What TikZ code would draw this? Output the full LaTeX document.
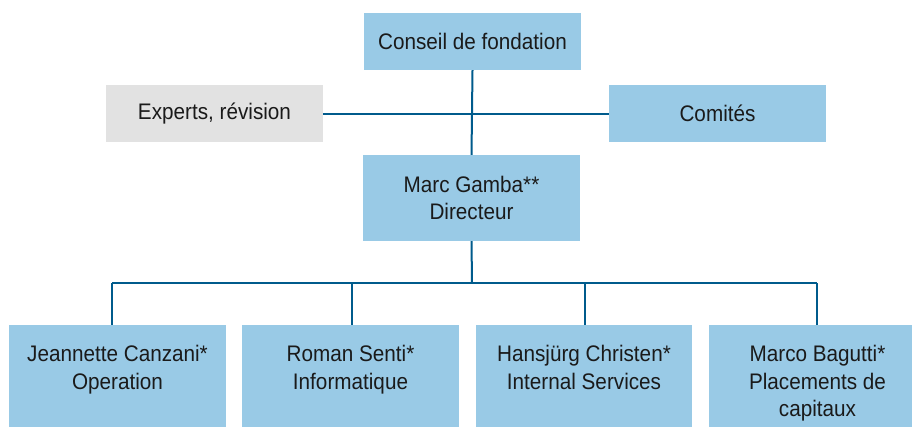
\documentclass[tikz,border=0pt]{standalone}
\usepackage{fontspec}
\setmainfont{Liberation Sans}[FakeStretch=0.92]
\definecolor{boxblue}{HTML}{99CAE6}
\definecolor{boxgray}{HTML}{E2E2E2}
\definecolor{linkblue}{HTML}{005B8C}
\definecolor{txt}{HTML}{1A1A1A}
\begin{document}
\begin{tikzpicture}[x=1pt,y=-1pt,
  orgbox/.style={fill=boxblue,draw=none,inner sep=0pt,font=\fontsize{22.5}{27.5}\selectfont,text=txt,align=center},
  graybox/.style={orgbox,fill=boxgray},
  link/.style={draw=linkblue,line width=2pt}]
\clip (0,0) rectangle (912,426);
\useasboundingbox (0,0) rectangle (912,426);
\node[orgbox,minimum width=217pt,minimum height=57pt] (cf) at (472.5,41.5) {Conseil de fondation};
\node[graybox,minimum width=217pt,minimum height=57pt] (ex) at (214.5,113.5) {Experts, révision};
\node[orgbox,minimum width=217pt,minimum height=57pt] (co) at (717.5,113.5) {Comités};
\node[orgbox,minimum width=217pt,minimum height=86pt] (md) at (471.5,198) {Marc Gamba**\\Directeur};
\coordinate (bus) at (472,283);
\foreach \n/\l/\r/\lx/\t in {b1/9/226/112/{Jeannette Canzani*\\Operation},
  b2/242/459/352/{Roman Senti*\\Informatique},
  b3/476/692/585/{Hansjürg Christen*\\Internal Services},
  b4/709/926/817/{Marco Bagutti*\\Placements de\\capitaux}}{
  \path[fill=boxblue] (\l,325) rectangle (\r,440);
  \node[orgbox,fill=none,anchor=north] (\n) at ({(\l+\r)/2},345) {\t};
  \coordinate (\n top) at (\lx,325);
  \coordinate (\n bus) at (\lx,283);
}
\draw[link] (cf.south) -- (md.north);
\draw[link] (ex.east) -- (co.west);
\draw[link] (md.south) -- (bus);
\draw[link] (b1bus) -- (b4bus);
\foreach \n in {b1,b2,b3,b4}{\draw[link] (\n bus) -- (\n top);}
\end{tikzpicture}
\end{document}
